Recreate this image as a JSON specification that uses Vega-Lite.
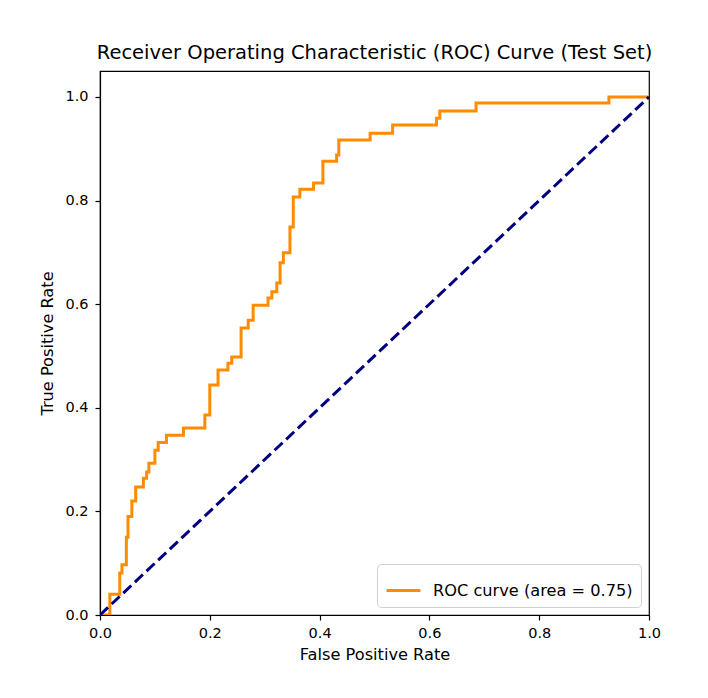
{
  "$schema": "https://vega.github.io/schema/vega-lite/v6.json",
  "width": 549,
  "height": 544,
  "autosize": {"type": "none"},
  "padding": {"left": 100, "top": 71, "right": 59, "bottom": 83},
  "background": "white",
  "title": {
    "text": "Receiver Operating Characteristic (ROC) Curve (Test Set)",
    "font": "DejaVu Sans",
    "fontSize": 19.5,
    "fontWeight": "normal",
    "color": "black",
    "anchor": "middle",
    "offset": 8
  },
  "datasets": {
    "roc": [
      {"fpr": 0.0, "tpr": 0.0},
      {"fpr": 0.018, "tpr": 0.04},
      {"fpr": 0.036, "tpr": 0.081},
      {"fpr": 0.04, "tpr": 0.097},
      {"fpr": 0.048, "tpr": 0.15},
      {"fpr": 0.051, "tpr": 0.19},
      {"fpr": 0.058, "tpr": 0.22},
      {"fpr": 0.065, "tpr": 0.247},
      {"fpr": 0.079, "tpr": 0.264},
      {"fpr": 0.085, "tpr": 0.276},
      {"fpr": 0.089, "tpr": 0.293},
      {"fpr": 0.1, "tpr": 0.318},
      {"fpr": 0.106, "tpr": 0.333},
      {"fpr": 0.121, "tpr": 0.347},
      {"fpr": 0.152, "tpr": 0.361},
      {"fpr": 0.191, "tpr": 0.386},
      {"fpr": 0.2, "tpr": 0.444},
      {"fpr": 0.215, "tpr": 0.473},
      {"fpr": 0.233, "tpr": 0.486},
      {"fpr": 0.24, "tpr": 0.498},
      {"fpr": 0.257, "tpr": 0.554},
      {"fpr": 0.27, "tpr": 0.569},
      {"fpr": 0.279, "tpr": 0.598},
      {"fpr": 0.306, "tpr": 0.612},
      {"fpr": 0.313, "tpr": 0.624},
      {"fpr": 0.322, "tpr": 0.641},
      {"fpr": 0.328, "tpr": 0.68},
      {"fpr": 0.334, "tpr": 0.699},
      {"fpr": 0.346, "tpr": 0.749},
      {"fpr": 0.352, "tpr": 0.807},
      {"fpr": 0.364, "tpr": 0.822},
      {"fpr": 0.389, "tpr": 0.834},
      {"fpr": 0.406, "tpr": 0.876},
      {"fpr": 0.431, "tpr": 0.888},
      {"fpr": 0.435, "tpr": 0.917},
      {"fpr": 0.492, "tpr": 0.93},
      {"fpr": 0.533, "tpr": 0.946},
      {"fpr": 0.613, "tpr": 0.959},
      {"fpr": 0.619, "tpr": 0.973},
      {"fpr": 0.685, "tpr": 0.988},
      {"fpr": 0.927, "tpr": 1.0},
      {"fpr": 1.0, "tpr": 1.0}
    ],
    "chance": [
      {"fpr": 0.0, "tpr": 0.0},
      {"fpr": 1.0, "tpr": 1.0}
    ]
  },
  "layer": [
    {
      "data": {"name": "roc"},
      "transform": [{"calculate": "'ROC curve (area = 0.75)'", "as": "series"}],
      "mark": {"type": "line", "interpolate": "step-after", "strokeWidth": 3, "clip": true},
      "encoding": {
        "x": {
          "field": "fpr",
          "type": "quantitative",
          "title": "False Positive Rate",
          "scale": {"domain": [0, 1], "nice": false, "zero": false},
          "axis": {"values": [0, 0.2, 0.4, 0.6, 0.8, 1.0], "format": ".1f"}
        },
        "y": {
          "field": "tpr",
          "type": "quantitative",
          "title": "True Positive Rate",
          "scale": {"domain": [0, 1.05], "nice": false, "zero": false},
          "axis": {"values": [0, 0.2, 0.4, 0.6, 0.8, 1.0], "format": ".1f"}
        },
        "color": {
          "field": "series",
          "type": "nominal",
          "scale": {"domain": ["ROC curve (area = 0.75)"], "range": ["#ff8c00"]},
          "legend": {"title": null}
        }
      }
    },
    {
      "data": {"name": "chance"},
      "mark": {"type": "line", "color": "#000080", "strokeWidth": 3, "strokeDash": [11, 5], "clip": true},
      "encoding": {
        "x": {"field": "fpr", "type": "quantitative"},
        "y": {"field": "tpr", "type": "quantitative"}
      }
    }
  ],
  "config": {
    "view": {"stroke": "black", "strokeWidth": 1.2},
    "axis": {
      "grid": false,
      "domainColor": "black",
      "domainWidth": 1.2,
      "tickColor": "black",
      "tickWidth": 1.2,
      "tickSize": 5,
      "labelFont": "DejaVu Sans",
      "labelFontSize": 14.5,
      "labelColor": "black",
      "titleFont": "DejaVu Sans",
      "titleFontSize": 16.2,
      "titleFontWeight": "normal",
      "titleColor": "black"
    },
    "axisX": {"labelPadding": 6, "titlePadding": 7, "labelFlush": false},
    "axisY": {"labelPadding": 7, "titlePadding": 9, "labelFlush": false},
    "legend": {
      "orient": "bottom-right",
      "offset": 8,
      "padding": 8,
      "fillColor": "white",
      "strokeColor": "#d0d0d0",
      "cornerRadius": 4,
      "labelFont": "DejaVu Sans",
      "labelFontSize": 16.2,
      "labelColor": "black",
      "labelLimit": 0,
      "labelOffset": 11,
      "symbolType": "stroke",
      "symbolStrokeWidth": 3,
      "symbolSize": 1156
    }
  }
}
